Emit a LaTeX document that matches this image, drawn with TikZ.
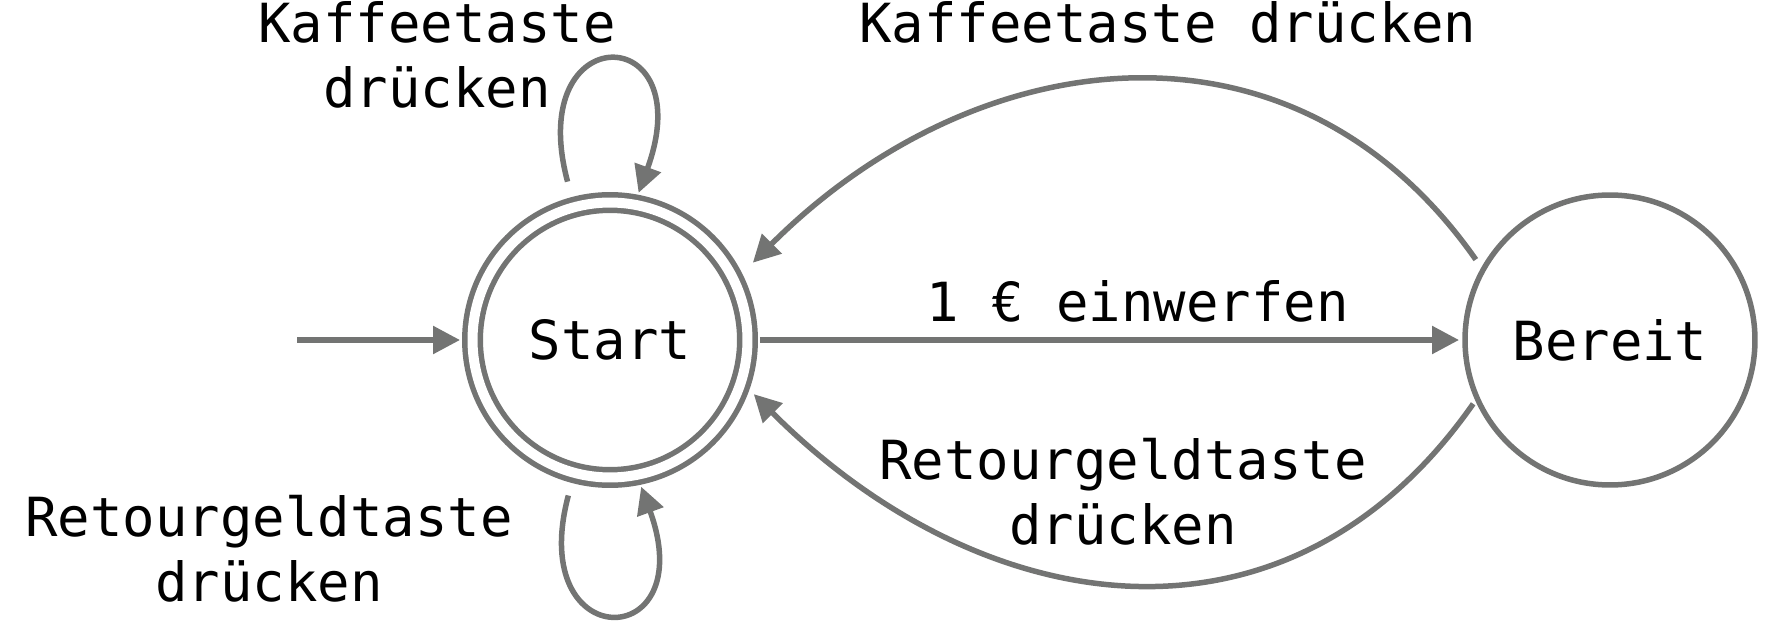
\documentclass[tikz,border=0pt]{standalone}
\usepackage{fontspec}
\setmainfont{DejaVu Sans Mono}
\usepackage{tikz}
\usetikzlibrary{arrows.meta,positioning}
\definecolor{edgegray}{RGB}{115,116,115}

\begin{document}
\begin{tikzpicture}[
  x=0.02cm, y=0.02cm,
  every node/.style={font=\fontsize{30.7}{37}\selectfont, text=black},
  state/.style={circle, draw=edgegray, line width=0.11cm, minimum size=5.8cm, inner sep=0pt, outer sep=0.12cm},
  finalstate/.style={double=white, double distance=0.2cm, minimum size=5.5cm, outer sep=0.25cm},
  arr/.style={-{Triangle[length=0.54cm, width=0.54cm]}, edgegray, line width=0.11cm},
  lbl/.style={align=center, inner sep=0pt},
]
\useasboundingbox (0,0) rectangle (1768,630);

% States
\node[state, finalstate] (start) at (610,290) {Start};
\node[state] (ready) at (1610,290) {Bereit};
\coordinate (entry) at (297,290);

% Transitions
\draw[arr] (entry) -- (start);
\draw[arr] (start) -- node[above=0.3cm, pos=0.54, inner sep=0pt] (insert) {1 € einwerfen} (ready);
\draw[arr, shorten <=0.12cm, shorten >=0.26cm] (ready.150) to[out=125, in=45, looseness=1.13] (start.27);
\draw[arr, shorten >=0.08cm] (ready.205) to[out=235, in=-45, looseness=1.15] (start.-20);
\draw[arr, shorten <=0.28cm] (start.105) to[out=105, in=70, looseness=7] (start.79);
\draw[arr, shorten <=0.22cm] (start.-105) to[out=-105, in=-70, looseness=6.5] (start.-78);

% Labels
\node[lbl] (coffeeloop) at (437,575) {Kaffeetaste\\drücken};
\node[lbl, anchor=base] (coffeeback) at (1168,587) {Kaffeetaste drücken};
\node[lbl] (returnback) at (1123,138.5) {Retourgeldtaste\\drücken};
\node[lbl] (returnloop) at (269,81) {Retourgeldtaste\\drücken};

\end{tikzpicture}
\end{document}
